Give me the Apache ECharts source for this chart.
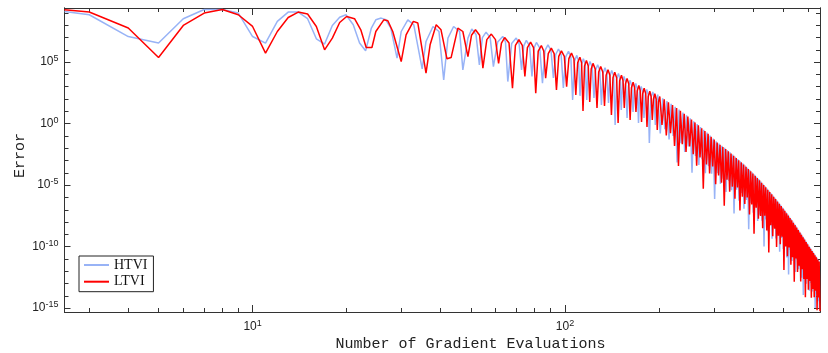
<!DOCTYPE html>
<html>
<head>
<meta charset="utf-8">
<script src="https://cdn.jsdelivr.net/npm/echarts@6.0.0/dist/echarts.min.js"></script>
<style>
  html, body { margin: 0; padding: 0; background: #fff; }
  #chart { width: 828px; height: 353px; }
</style>
</head>
<body>
<div id="chart"></div>
<script>
// [number of gradient evaluations, log10(error)]
const htviPoints = [
  [2.5, 9.12], [3, 8.85], [4, 7.08], [5, 6.55], [6, 8.53], [7, 9.28], [8, 9.28], [9, 8.99], [10, 7.08], [11, 6.55],
  [12, 8.31], [13, 9.07], [14, 9.07], [15, 8.53], [16, 6.90], [17, 6.47], [18, 7.98], [19, 8.65], [19.9, 8.85], [21, 8.04],
  [22, 6.55], [23, 5.92], [24, 7.77], [24.8, 8.44], [25.8, 8.58], [26.7, 8.44], [27.7, 7.77], [29, 5.33], [29.9, 7.49], [31.4, 8.44],
  [32.8, 8.04], [34.9, 4.45], [35.9, 6.68], [37.8, 7.90], [39.5, 7.49], [40.9, 3.56], [42.2, 6.95], [44, 7.90], [46, 7.49], [47.1, 4.37],
  [48.9, 6.95], [50.3, 7.69], [51.9, 7.24], [53.2, 4.78], [54.4, 6.99], [55.9, 7.44], [57.6, 6.99], [59, 4.64], [60.9, 6.64],
  [63.2, 7.09], [64.5, 6.64], [65.6, 3.42], [67.5, 6.51], [69.8, 6.96], [71.3, 6.51], [72.6, 4.37], [73.8, 6.32],
  [75.2, 6.77], [77, 6.32], [78.4, 3.83], [79.6, 6.15], [81, 6.60], [83, 6.15], [84.7, 3.28], [86.3, 5.96],
  [88.2, 6.41], [90.2, 5.96], [91.8, 3.72], [93.4, 5.62], [95.3, 6.07], [97.2, 5.62], [98.8, 2.91], [100.5, 5.43],
  [102.6, 5.88], [104.4, 5.43], [105.8, 1.93], [107.3, 5.10], [109.1, 5.55], [110.5, 5.10], [111.7, 2.26], [113, 4.83],
  [114.5, 5.28], [116.1, 4.83], [117.4, 1.93], [118.7, 4.60], [120.2, 5.05], [122.2, 4.60], [123.8, 2.09], [125.3, 4.34],
  [127.2, 4.79], [129.2, 4.34], [130.8, 1.52], [132.4, 4.09], [134.3, 4.54], [136.2, 4.09], [137.8, 1.69], [139.3, 3.88],
  [141.1, 4.33], [143.1, 3.88], [144.7, -0.11], [146.3, 3.63], [148.3, 4.08], [150, 3.63], [151.4, 1.12], [152.8, 3.38],
  [154.5, 3.83], [156.4, 3.38], [158, 0.46], [159.6, 3.07], [161.6, 3.52], [163.5, 3.07], [165.1, 0.95], [166.6, 2.81],
  [168.5, 3.26], [170.4, 2.81], [171.9, 0.06], [173.4, 2.58], [175.3, 3.03], [177.3, 2.58], [179, 0.46], [180.7, 2.34],
  [182.7, 2.79], [184.6, 2.34], [186.2, -1.57], [188.4, 2.13], [191, 2.58], [193, 2.13], [194.6, -0.11], [196.2, 1.91],
  [198.1, 2.36], [201.8, -0.79], [205.5, 2.07], [208.7, -0.45], [212, 1.84], [215.3, -1.28], [218.6, 1.61], [221.9, -1.01],
  [225.3, 1.37], [228.5, -3.15], [231.8, 1.14], [235.1, -1.58], [238.5, 0.91], [241.7, -2.31], [245, 0.67], [248.3, -1.85],
  [251.7, 0.44], [255, -3.98], [258.3, 0.20], [261.6, -2.62], [264.9, -0.03], [268.2, -3.35], [271.6, -0.27], [274.8, -2.89],
  [278.1, -0.50], [281.4, -4.02], [284.8, -0.73], [288, -3.45], [291.3, -0.96], [294.7, -4.08], [298, -1.20], [301.3, -6.12],
  [304.6, -1.43], [307.9, -4.02], [311.2, -1.61], [314.5, -4.90], [317.8, -1.79], [321.1, -4.48], [324.5, -1.97], [327.7, -5.56],
  [331, -2.15], [334.3, -4.64], [337.7, -2.33], [341, -5.42], [344.3, -2.51], [347.6, -7.30], [350.9, -2.69], [354.2, -5.38],
  [357.5, -2.87], [360.8, -6.26], [364.2, -3.05], [367.4, -5.64], [370.7, -3.23], [374, -6.92], [377.4, -3.41], [380.7, -6.20],
  [384, -3.59], [387.3, -8.58], [390.6, -3.77], [393.9, -6.46], [397.2, -3.95], [400.5, -7.25], [403.9, -4.14], [407.1, -6.73],
  [410.4, -4.32], [413.7, -7.92], [417.1, -4.51], [420.4, -7.41], [423.7, -4.70], [427, -7.90], [430.3, -4.89], [433.6, -9.99],
  [436.9, -5.08], [440.2, -7.78], [443.6, -5.27], [446.8, -8.77], [450.1, -5.46], [453.4, -8.26], [456.8, -5.65], [460.1, -9.35],
  [463.4, -5.84], [466.7, -8.44], [470, -6.03], [473.3, -9.33], [476.6, -6.22], [479.9, -9.12], [483.3, -6.41], [486.5, -10.41],
  [489.8, -6.60], [493.1, -9.30], [496.5, -6.79], [499.8, -10.19], [503.1, -6.98], [506.4, -9.78], [509.7, -7.18], [513, -10.88],
  [516.3, -7.37], [519.6, -12.27], [523, -7.57], [526.2, -10.27], [529.5, -7.76], [532.8, -11.16], [536.2, -7.96], [539.5, -10.76],
  [542.8, -8.15], [546.1, -12.05], [549.4, -8.35], [552.7, -11.05], [556, -8.54], [559.3, -11.84], [562.7, -8.74], [565.9, -11.64],
  [569.2, -8.93], [572.5, -12.53], [575.9, -9.13], [579.2, -13.93], [582.5, -9.32], [585.8, -12.12], [589.1, -9.52], [592.4, -13.02],
  [595.7, -9.71], [599, -12.41], [602.4, -9.90], [605.6, -13.59], [608.9, -10.07], [612.2, -12.96], [615.6, -10.25], [618.9, -13.64],
  [622.2, -10.42], [625.5, -13.41], [628.8, -10.60], [632.1, -14.99], [635.4, -10.77], [638.7, -13.86], [642.1, -10.94], [645.3, -14.43],
  [648.6, -11.11], [652, -15.0]
];
const ltviPoints = [
  [2.5, 9.26], [3, 9.07], [4, 7.77], [5, 5.37], [6, 7.98], [7, 8.99], [8, 9.28], [9, 8.85], [10, 7.90], [11, 5.73],
  [12, 7.49], [13, 8.63], [14, 9.07], [15, 8.91], [16, 7.90], [17, 6.00], [18, 6.95], [19, 8.22], [20, 8.71], [21.2, 8.53],
  [22.2, 7.63], [23.1, 6.19], [24.1, 6.19], [24.8, 7.49], [26.3, 8.44], [27.1, 8.36], [28.1, 7.49], [29.9, 5.05], [31, 7.22], [32.7, 8.31],
  [33.8, 8.18], [35.9, 4.10], [37, 6.41], [38.7, 8.04], [40.1, 7.63], [41.9, 5.27], [43.2, 5.37], [45.4, 7.77], [47.1, 7.49], [48.9, 5.45],
  [50.2, 7.18], [51.7, 7.63], [53.3, 7.18], [54.6, 4.51], [56.2, 6.83], [58.1, 7.28], [59.9, 6.83], [61.3, 4.90], [62.6, 6.55],
  [64.1, 7.00], [66.2, 6.55], [67.9, 2.88], [69.4, 6.37], [71.2, 6.82], [73, 6.37], [74.4, 3.83], [75.8, 6.18],
  [77.6, 6.63], [79.3, 6.18], [80.6, 2.48], [82.1, 5.90], [84, 6.35], [85.5, 5.90], [86.7, 3.70], [88.4, 5.69],
  [90.4, 6.14], [92.3, 5.69], [93.9, 2.74], [95.5, 5.47], [97.4, 5.92], [99.5, 5.47], [101.2, 3.01], [102.9, 5.28],
  [104.9, 5.73], [106.8, 5.28], [108.3, 2.34], [109.8, 4.95], [111.6, 5.40], [113, 4.95], [114.2, 1.03], [115.5, 4.68],
  [117.1, 5.13], [118.7, 4.68], [120, 1.77], [121.3, 4.45], [122.9, 4.90], [124.9, 4.45], [126.6, 1.28], [128.2, 4.19],
  [130.1, 4.64], [132.1, 4.19], [133.8, 1.44], [135.4, 3.94], [137.3, 4.39], [139.2, 3.94], [140.8, 0.71], [142.4, 3.73],
  [144.3, 4.18], [146.3, 3.73], [147.9, 0.06], [149.6, 3.48], [151.6, 3.93], [153.4, 3.48], [154.8, 1.28], [156.2, 3.23],
  [158, 3.68], [160, 3.23], [161.6, 0.30], [163.2, 2.92], [165.2, 3.37], [167.1, 2.92], [168.7, 0.95], [170.3, 2.66],
  [172.3, 3.11], [174.2, 2.66], [175.8, 0.14], [177.3, 2.43], [179.2, 2.88], [181.3, 2.43], [183, -0.27], [184.7, 2.19],
  [186.8, 2.64], [188.7, 2.19], [190.3, 0.30], [191.9, 1.98], [193.9, 2.43], [195.8, 1.98], [197.4, -0.51], [199.1, 1.76],
  [201.1, 2.21], [204.4, -0.11], [207.8, 1.97], [211, -0.95], [214.3, 1.74], [217.6, -0.78], [220.9, 1.51], [224.2, -1.81],
  [227.6, 1.27], [230.8, -3.45], [234.1, 1.04], [237.4, -1.68], [240.8, 0.81], [244, -2.31], [247.3, 0.57], [250.6, -1.85],
  [254, 0.34], [257.3, -2.48], [260.6, 0.10], [263.9, -3.42], [267.2, -0.13], [270.5, -2.75], [273.9, -0.37], [277.1, -5.29],
  [280.4, -0.60], [283.7, -3.32], [287.1, -0.83], [290.3, -4.05], [293.6, -1.06], [297, -3.48], [300.3, -1.30], [303.6, -4.92],
  [306.9, -1.53], [310.2, -4.22], [313.5, -1.71], [316.8, -4.80], [320.1, -1.89], [323.4, -6.68], [326.8, -2.07], [330, -4.56],
  [333.3, -2.25], [336.6, -5.54], [340, -2.43], [343.3, -5.12], [346.6, -2.61], [349.9, -6.10], [353.2, -2.79], [356.5, -5.18],
  [359.8, -2.97], [363.1, -7.06], [366.5, -3.15], [369.7, -5.94], [373, -3.33], [376.3, -6.52], [379.7, -3.51], [383, -6.00],
  [386.3, -3.69], [389.6, -7.38], [392.9, -3.87], [396.2, -6.56], [399.5, -4.05], [402.8, -8.95], [406.2, -4.24], [409.4, -6.83],
  [412.7, -4.42], [416, -7.72], [419.4, -4.61], [422.7, -7.51], [426, -4.80], [429.3, -8.50], [432.6, -4.99], [435.9, -7.49],
  [439.2, -5.18], [442.5, -8.68], [445.9, -5.37], [449.1, -10.47], [452.4, -5.56], [455.7, -8.26], [459.1, -5.75], [462.4, -9.15],
  [465.7, -5.94], [469, -8.54], [472.3, -6.13], [475.6, -10.03], [478.9, -6.32], [482.2, -9.12], [485.6, -6.51], [488.8, -9.81],
  [492.1, -6.70], [495.4, -9.20], [498.8, -6.89], [502.1, -11.89], [505.4, -7.08], [508.7, -9.98], [512, -7.28], [515.3, -10.78],
  [518.6, -7.47], [521.9, -10.07], [525.3, -7.67], [528.5, -11.47], [531.8, -7.86], [535.1, -10.86], [538.5, -8.06], [541.8, -12.86],
  [545.1, -8.25], [548.4, -10.95], [551.7, -8.45], [555, -12.05], [558.3, -8.64], [561.6, -11.54], [565, -8.84], [568.2, -12.84],
  [571.5, -9.03], [574.8, -11.83], [578.2, -9.23], [581.5, -12.63], [584.8, -9.42], [588.1, -14.12], [591.4, -9.62], [594.7, -12.62],
  [598, -9.81], [601.3, -13.51], [604.7, -10.00], [607.9, -12.79], [611.2, -10.17], [614.5, -14.16], [617.9, -10.35], [621.2, -13.44],
  [624.5, -10.52], [627.8, -14.11], [631.1, -10.70], [634.4, -13.59], [637.7, -10.87], [641, -15.16], [644.4, -11.04], [647.6, -14.13],
  [650.9, -11.21], [655, -15.25]
];

// axis ticks (major ones carry the labels)
const xMajorTicks = [10, 100];
const xMinorTicks = [3, 4, 5, 6, 7, 8, 9, 20, 30, 40, 50, 60, 70, 80, 90, 200, 300, 400, 500, 600];
const yMajorExp = [-15, -10, -5, 0, 5];
const yMinorExp = [-14, -13, -12, -11, -9, -8, -7, -6, -4, -3, -2, -1, 1, 2, 3, 4, 6, 7, 8, 9];

const xMin = 2.5, xMax = 655;
const yMin = Math.pow(10, -15.31), yMax = Math.pow(10, 9.4);

const axisColor = '#333';
const toData = pts => pts.map(p => [p[0], Math.pow(10, p[1])]);

const supLabel = {
  margin: 7,
  formatter: v => '{b|10}{s|' + Math.round(Math.log10(v)) + '}',
  rich: {
    b: { fontFamily: 'Liberation Sans', fontSize: 12, color: '#222' },
    s: { fontFamily: 'Liberation Sans', fontSize: 9, color: '#222', padding: [0, 0, 7, 0] }
  }
};

function xAxisPart(position, ticks, len, labels) {
  return {
    type: 'log', position: position, min: xMin, max: xMax,
    axisLine: { show: true, onZero: false, lineStyle: { color: axisColor, width: 1 } },
    axisTick: { show: true, inside: true, length: len, customValues: ticks, lineStyle: { color: axisColor } },
    axisLabel: labels ? Object.assign({ customValues: ticks }, supLabel) : { show: false },
    splitLine: { show: false }
  };
}

function yAxisPart(position, ticks, len, labels) {
  return {
    type: 'log', position: position, min: yMin, max: yMax,
    axisLine: { show: true, onZero: false, lineStyle: { color: axisColor, width: 1 } },
    axisTick: { show: true, inside: true, length: len, customValues: ticks, lineStyle: { color: axisColor } },
    axisLabel: labels ? Object.assign({ customValues: ticks }, supLabel, { margin: 6 }) : { show: false },
    splitLine: { show: false }
  };
}

const yMajorTicks = yMajorExp.map(e => Math.pow(10, e));
const yMinorTicks = yMinorExp.map(e => Math.pow(10, e));

const chart = echarts.init(document.getElementById('chart'));
chart.setOption({
  animation: false,
  backgroundColor: '#fff',
  grid: { left: 64.5, right: 8, top: 8, bottom: 41 },
  xAxis: [
    xAxisPart('bottom', xMajorTicks, 7, true),
    xAxisPart('top', xMajorTicks, 7, false),
    xAxisPart('bottom', xMinorTicks, 4, false),
    xAxisPart('top', xMinorTicks, 4, false)
  ],
  yAxis: [
    yAxisPart('left', yMajorTicks, 6, true),
    yAxisPart('right', yMajorTicks, 6, false),
    yAxisPart('left', yMinorTicks, 4, false),
    yAxisPart('right', yMinorTicks, 4, false)
  ],
  legend: {
    data: ['HTVI', 'LTVI'],
    orient: 'vertical',
    left: 79, top: 256,
    icon: 'rect', itemWidth: 25, itemHeight: 2, itemGap: 0.7,
    padding: [1, 6, 2, 5],
    borderColor: '#222', borderWidth: 1, borderRadius: 0,
    backgroundColor: '#fff',
    selectedMode: false,
    textStyle: { fontFamily: 'Liberation Serif', fontSize: 14, color: '#111', lineHeight: 16 }
  },
  graphic: [
    {
      type: 'text', x: 470.5, y: 344,
      style: { text: 'Number of Gradient Evaluations', font: '15px "Liberation Mono"', fill: '#222', align: 'center', verticalAlign: 'middle' }
    },
    {
      type: 'text', x: 20.5, y: 155.5, rotation: Math.PI / 2,
      style: { text: 'Error', font: '15px "Liberation Mono"', fill: '#222', align: 'center', verticalAlign: 'middle' }
    }
  ],
  series: [
    {
      name: 'HTVI', type: 'line', xAxisIndex: 0, yAxisIndex: 0,
      data: toData(htviPoints),
      showSymbol: false,
      lineStyle: { color: '#98b3f6', width: 1.5 },
      itemStyle: { color: '#98b3f6' }
    },
    {
      name: 'LTVI', type: 'line', xAxisIndex: 0, yAxisIndex: 0,
      data: toData(ltviPoints),
      showSymbol: false,
      lineStyle: { color: '#ff0000', width: 1.5 },
      itemStyle: { color: '#ff0000' }
    }
  ]
});
</script>
</body>
</html>
